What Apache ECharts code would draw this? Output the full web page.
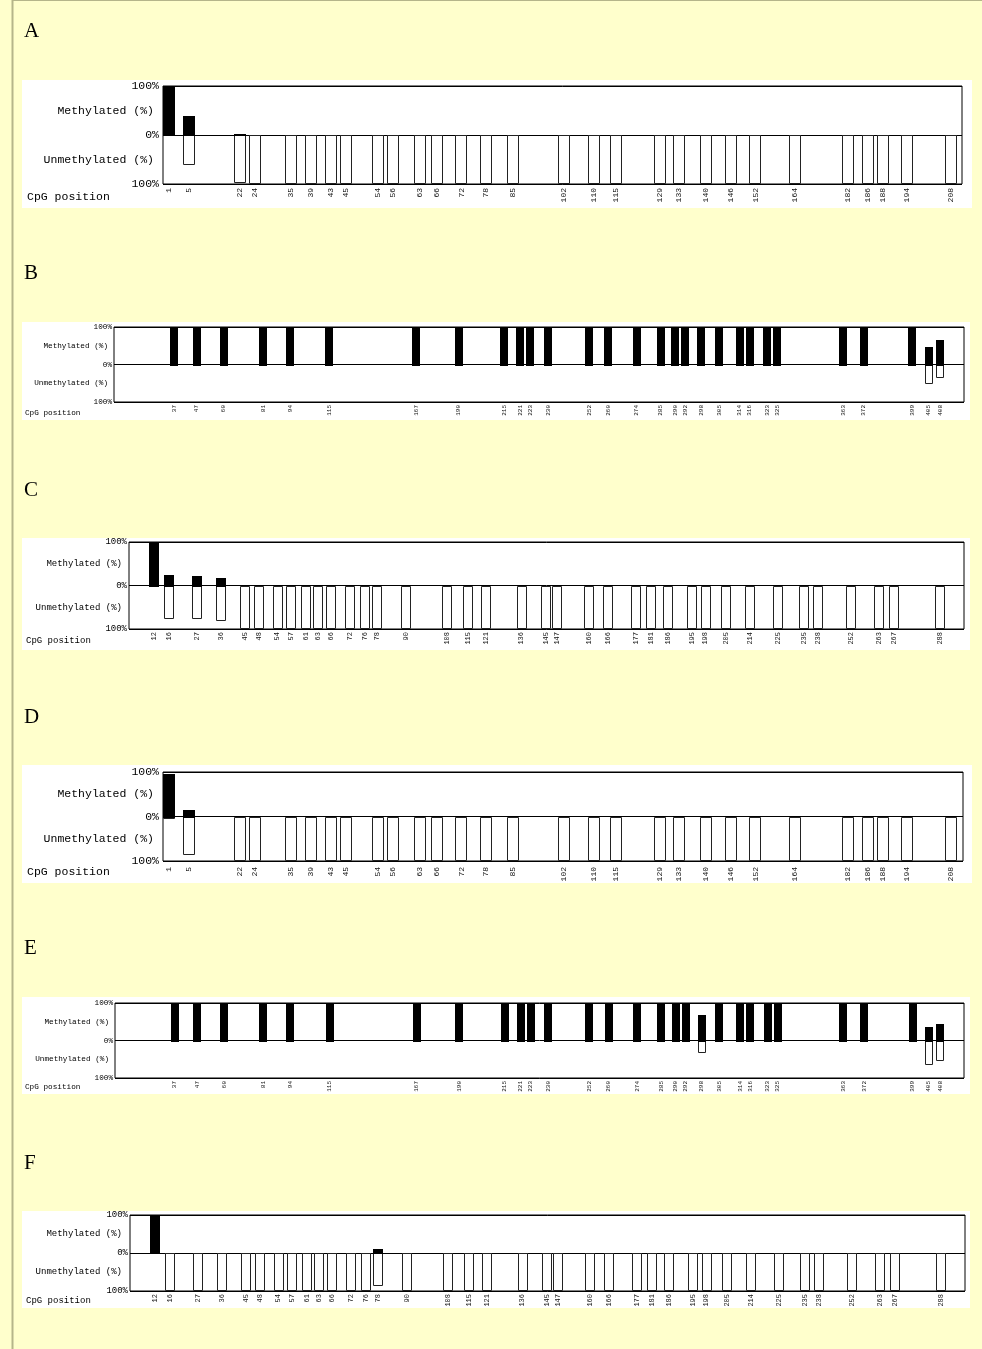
<!DOCTYPE html>
<html><head><meta charset="utf-8">
<script src="https://cdn.jsdelivr.net/npm/echarts@6/dist/echarts.min.js"></script>
<style>html,body{margin:0;padding:0;background:#FFFFCC;}#c{width:982px;height:1349px;}</style>
</head><body><div id="c"></div>
<script>
// ---- data ----
const posA = [1,5,22,24,35,39,43,45,54,56,63,66,72,78,85,102,110,115,129,133,140,146,152,164,182,186,188,194,208];
const methA = [100,38,3,0,0,0,0,0,0,0,0,0,0,0,0,0,0,0,0,0,0,0,0,0,0,0,0,0,0];
const unmethA = [0,62,97,100,100,100,100,100,100,100,100,100,100,100,100,100,100,100,100,100,100,100,100,100,100,100,100,100,100];

const posB = [37,47,60,81,94,115,167,190,215,221,223,230,252,260,274,285,290,292,298,305,314,316,323,325,363,372,399,405,408];
const methB = [100,100,100,100,100,100,100,100,100,100,100,100,100,100,100,100,100,100,97,100,97,100,100,100,100,100,100,48,65];
const unmethB = [0,0,0,0,0,0,0,0,0,0,0,0,0,0,0,0,0,0,3,0,3,0,0,0,0,0,0,53,35];

const posC = [12,16,27,36,45,48,54,57,61,63,66,72,76,78,90,108,115,121,136,145,147,160,166,177,181,186,195,198,205,214,225,235,238,252,263,267,288];
const methC = [100,23,22,18,0,0,0,0,0,0,0,0,0,0,0,0,0,0,0,0,0,0,0,0,0,0,0,0,0,0,0,0,0,0,0,0,0];
const unmethC = [0,76,78,82,100,100,100,100,100,100,100,100,100,100,100,100,100,100,100,100,100,100,100,100,100,100,100,100,100,100,100,100,100,100,100,100,100];

const posD = posA;
const methD = [95,14,0,0,0,0,0,0,0,0,0,0,0,0,0,0,0,0,0,0,0,0,0,0,0,0,0,0,0];
const unmethD = [5,86,100,100,100,100,100,100,100,100,100,100,100,100,100,100,100,100,100,100,100,100,100,100,100,100,100,100,100];

const posE = posB;
const methE = [100,100,100,100,100,100,100,100,100,100,100,100,100,100,100,100,100,100,67,100,100,100,100,100,100,100,100,35,45];
const unmethE = [0,0,0,0,0,0,0,0,0,0,0,0,0,0,0,0,0,0,33,0,0,0,0,0,0,0,0,65,55];

const posF = posC;
const methF = [100,0,0,0,0,0,0,0,0,0,0,0,0,10,0,0,0,0,0,0,0,0,0,0,0,0,0,0,0,0,0,0,0,0,0,0,0];
const unmethF = [0,100,100,100,100,100,100,100,100,100,100,100,100,88,100,100,100,100,100,100,100,100,100,100,100,100,100,100,100,100,100,100,100,100,100,100,100];

const panelLetters = ['A','B','C','D','E','F'];
const yPctLabels = {100:'100%', 0:'0%', '-100':'100%'};
const yNameLabels = {50:'Methylated (%)', '-50':'Unmethylated (%)'};
const xTitle = 'CpG position';

// ---- layout ----
const MONO = '"Liberation Mono", "DejaVu Sans Mono", monospace';
const panels = [
  {pos:posA, meth:methA, un:unmethA, grid:{left:163,top:86,width:799,height:98}, bg:[22,80,950,128], letterY:31,
   k:4.2, min:-1.43, max:330.1, barW:12, yFont:11.5, xFont:8, pctM:4, nameM:9, xM:4, title:[27,197]},
  {pos:posB, meth:methB, un:unmethB, grid:{left:114,top:327,width:850,height:75}, bg:[22,322,948,98], letterY:273,
   k:4.46, min:-2.1, max:548.4, barW:8, yFont:7.7, xFont:6, pctM:2, nameM:6, xM:3, title:[25,413]},
  {pos:posC, meth:methC, un:unmethC, grid:{left:129,top:542,width:835,height:87}, bg:[22,538,948,112], letterY:490,
   k:4.4, min:-1.7, max:459.6, barW:10, yFont:9, xFont:7, pctM:2, nameM:7, xM:3, title:[26,641]},
  {pos:posD, meth:methD, un:unmethD, grid:{left:163,top:772,width:800,height:89}, bg:[22,765,950,118], letterY:717,
   k:4.2, min:-1.43, max:330.5, barW:12, yFont:11.5, xFont:8, pctM:4, nameM:9, xM:6, title:[27,872]},
  {pos:posE, meth:methE, un:unmethE, grid:{left:115,top:1003,width:849,height:75}, bg:[22,997,948,97], letterY:948,
   k:4.46, min:-1.7, max:548.2, barW:8, yFont:7.7, xFont:6, pctM:2, nameM:6, xM:3, title:[25,1087]},
  {pos:posF, meth:methF, un:unmethF, grid:{left:130,top:1215,width:835,height:76}, bg:[22,1211,948,97], letterY:1163,
   k:4.4, min:-1.7, max:459.6, barW:10, yFont:9, xFont:7, pctM:2, nameM:8, xM:3, title:[26,1301]}
];

const grids = [], xAxes = [], yAxes = [], series = [], graphics = [];

// page border
graphics.push({type:'line', shape:{x1:12.5,y1:0,x2:12.5,y2:1349}, style:{stroke:'#B5B58A', lineWidth:2}, z:-5});
graphics.push({type:'line', shape:{x1:12,y1:0.5,x2:982,y2:0.5}, style:{stroke:'#B5B58A', lineWidth:1}, z:-5});

function makeRender(barW){
  return function(params, api){
    const u = api.value(0), m = api.value(1), un = api.value(2);
    const c0 = api.coord([u, 0]);
    const x = Math.round(c0[0] - barW/2);
    const y0 = Math.round(c0[1]);
    const children = [];
    if (un > 0) {
      const yb = Math.round(api.coord([u, -un])[1]);
      children.push({type:'rect', shape:{x:x+0.5, y:y0+0.5, width:barW-1, height:yb-y0-1},
        style:{fill:'#fff', stroke:'#222', lineWidth:1}});
    }
    if (m > 0) {
      const yt = Math.round(api.coord([u, m])[1]);
      children.push({type:'rect', shape:{x:x, y:yt, width:barW, height:y0-yt+1}, style:{fill:'#000'}});
    }
    return {type:'group', children};
  };
}

panels.forEach((p, i) => {
  const us = p.pos.map((v, j) => v + j * p.k);
  const labMap = new Map(us.map((u, j) => [u.toFixed(4), String(p.pos[j])]));
  graphics.push({type:'rect', shape:{x:p.bg[0], y:p.bg[1], width:p.bg[2], height:p.bg[3]}, style:{fill:'#fff'}, z:-3});
  graphics.push({type:'text', x:24, y:p.letterY, style:{text:panelLetters[i], font:'21px "Liberation Serif", "DejaVu Serif", serif', fill:'#000', verticalAlign:'middle'}});
  graphics.push({type:'text', x:p.title[0], y:p.title[1], style:{text:xTitle, font:p.yFont+'px '+MONO, fill:'#000', verticalAlign:'middle'}});
  grids.push(Object.assign({show:true, borderColor:'#000', borderWidth:1, containLabel:false}, p.grid));
  xAxes.push({gridIndex:i, type:'value', min:p.min, max:p.max,
    axisLine:{show:false}, axisTick:{show:false}, splitLine:{show:false},
    axisLabel:{customValues:us, rotate:90, fontSize:p.xFont, fontFamily:MONO, color:'#111', margin:p.xM,
      formatter: v => labMap.get(Number(v).toFixed(4)) || ''}});
  yAxes.push({gridIndex:i, type:'value', min:-100, max:100, interval:100, position:'left', offset:0,
    axisLine:{show:false}, axisTick:{show:false},
    splitLine:{show:true, lineStyle:{color:'#000', width:1}},
    axisLabel:{fontSize:p.yFont, fontFamily:MONO, color:'#000', margin:p.pctM,
      formatter: v => yPctLabels[v] || ''}});
  yAxes.push({gridIndex:i, type:'value', min:-100, max:100, interval:50, position:'left', offset:0,
    axisLine:{show:false}, axisTick:{show:false}, splitLine:{show:false},
    axisLabel:{fontSize:p.yFont, fontFamily:MONO, color:'#000', margin:p.nameM,
      formatter: v => yNameLabels[v] || ''}});
  series.push({type:'custom', xAxisIndex:i, yAxisIndex:2*i, renderItem:makeRender(p.barW),
    data: us.map((u, j) => [u, p.meth[j], p.un[j]]), silent:true, animation:false});
});

const chart = echarts.init(document.getElementById('c'), null, {renderer:'canvas'});
chart.setOption({
  backgroundColor:'#FFFFCC', animation:false,
  grid:grids, xAxis:xAxes, yAxis:yAxes, series:series, graphic:graphics
});
</script></body></html>
